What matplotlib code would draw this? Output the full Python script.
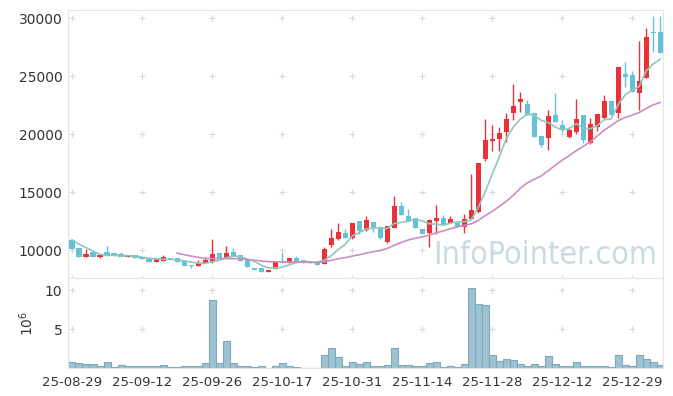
import numpy as np
import pandas as pd
import matplotlib
matplotlib.use("Agg")
import matplotlib.pyplot as plt

# daily prices (KRW), 85 trading days
opens = [10840, 10170, 9430, 9850, 9430, 9830, 9740, 9680, 9430, 9540,
         9370, 9230, 9000, 9080, 9300, 9310, 9090, 8710, 8630, 8890,
         9000, 9740, 9310, 9830, 9600, 9140, 8460, 8460, 8150, 8400,
         9080, 8890, 9310, 9110, 9050, 8940, 8820, 10460, 10950, 11500,
         11060, 12530, 11700, 12440, 12010, 10720, 11920, 13790, 12930, 12730,
         11840, 11440, 12530, 12760, 12350, 12350, 11960, 12700, 13300, 17820,
         19400, 19600, 20200, 21790, 22790, 22590, 21790, 19830, 19680, 21640,
         20780, 19720, 20200, 21640, 19260, 20630, 21350, 22870, 21840, 25170,
         25090, 23560, 24860, 28820, 28820]
highs = [10950, 10170, 10090, 9850, 9570, 10400, 9760, 9830, 9510, 9560,
         9380, 9230, 9200, 9600, 9320, 9310, 9090, 8710, 9150, 9370,
         10950, 9760, 10320, 10150, 9600, 9150, 8480, 8470, 8290, 9050,
         9720, 9320, 9480, 9120, 9060, 8950, 10230, 11790, 12300, 11790,
         12330, 12540, 12930, 12450, 12100, 12100, 14650, 14160, 13510, 12740,
         11850, 12650, 13880, 13020, 12930, 12360, 13100, 16530, 17470, 21270,
         20780, 20630, 21840, 24310, 23650, 22930, 21800, 19840, 22080, 23510,
         21210, 20630, 22990, 21650, 21350, 21725, 23380, 22880, 25750, 26180,
         25430, 28040, 29110, 30200, 30200]
lows = [10100, 9420, 9420, 9430, 9310, 9600, 9510, 9450, 9420, 9340,
        9200, 8940, 8990, 9070, 9230, 8990, 8620, 8450, 8620, 8850,
        8880, 9310, 9300, 9510, 9080, 8540, 8290, 8150, 8140, 8380,
        8910, 8880, 9050, 8890, 8850, 8700, 8810, 10290, 10900, 11060,
        10950, 11380, 11690, 11530, 11000, 10650, 11900, 12990, 12530, 11920,
        11380, 10230, 11370, 12160, 12340, 12010, 11500, 12690, 13200, 17670,
        18560, 18560, 19340, 21210, 21900, 21640, 19770, 18910, 18650, 21060,
        20200, 19650, 20000, 19200, 19150, 20260, 21300, 21640, 21350, 24030,
        23650, 22070, 24800, 27100, 27010]
closes = [10110, 9430, 9660, 9430, 9570, 9600, 9510, 9450, 9510, 9340,
          9200, 9000, 9200, 9370, 9230, 9000, 8630, 8630, 8890, 9140,
          9660, 9310, 9740, 9510, 9090, 8540, 8290, 8150, 8290, 9000,
          8920, 9310, 9050, 8890, 8850, 8740, 10090, 11010, 11550, 11060,
          12330, 11610, 12590, 11990, 11060, 12070, 13790, 12990, 12530, 11920,
          11380, 12590, 12760, 12160, 12670, 12010, 12670, 13450, 17470, 19480,
          19570, 20120, 21290, 22440, 23020, 21640, 19770, 19050, 21550, 21060,
          20350, 20350, 21290, 19480, 20840, 21725, 22850, 21640, 25750, 24940,
          23650, 24570, 28330, 28730, 27010]
# closes of the 4 sessions before the window (only feed the moving averages)
prior_closes = [11300, 11100, 11000, 10900]

volume = [820000, 690000, 560000, 560000, 300000, 820000, 90000, 430000, 210000, 210000,
          210000, 210000, 210000, 430000, 90000, 90000, 210000, 210000, 300000, 690000,
          8800000, 690000, 3500000, 690000, 300000, 300000, 90000, 210000, 20000, 300000,
          690000, 210000, 90000, 20000, 20000, 20000, 1700000, 2600000, 1370000, 210000,
          820000, 560000, 820000, 210000, 210000, 430000, 2600000, 430000, 430000, 300000,
          210000, 690000, 820000, 90000, 210000, 90000, 560000, 10300000, 8300000, 8150000,
          1700000, 940000, 1200000, 1070000, 560000, 300000, 560000, 210000, 1600000, 560000,
          210000, 210000, 820000, 300000, 300000, 210000, 210000, 90000, 1700000, 430000,
          210000, 1700000, 1200000, 820000, 430000]

tick_pos = [0, 10, 20, 30, 40, 50, 60, 70, 80]
tick_labels = ['25-08-29', '25-09-12', '25-09-26', '25-10-17', '25-10-31',
               '25-11-14', '25-11-28', '25-12-12', '25-12-29']

up_color = '#ec3038'
down_color = '#64c1d8'
grid_color = '#d9d9d9'
plt.rcParams['font.family'] = ['DejaVu Sans']

n = len(closes)
x = np.arange(n)
o = np.array(opens, float)
c = np.array(closes, float)
h = np.array(highs, float)
l = np.array(lows, float)

allc = pd.Series(prior_closes + closes, dtype=float)
ma5 = allc.rolling(5).mean().values[len(prior_closes):]
ma20 = allc.rolling(20).mean().values[len(prior_closes):]

fig = plt.figure(figsize=(6.73, 3.96), dpi=100)
W, H = 673.0, 396.0
ax1 = fig.add_axes([68 / W, 1 - 278 / H, (663 - 68) / W, (278 - 10) / H])
ax2 = fig.add_axes([68 / W, 1 - 368 / H, (663 - 68) / W, (368 - 278) / H], sharex=ax1)

# watermark
ax1.text(0.99, 0.025, 'InfoPointer.com', transform=ax1.transAxes, ha='right', va='bottom',
         fontsize=23, color='#c9dbe5', fontstretch='condensed', zorder=0)

colors = np.where(c >= o, up_color, down_color)
ax1.vlines(x, l, h, colors=colors, linewidth=1.0, zorder=2)
body = np.maximum(np.abs(c - o), 40)
ax1.bar(x, body, bottom=np.minimum(o, c), width=0.72, color=colors, linewidth=0, zorder=3)

ax1.plot(x, ma5, color='#8cc8bf', linewidth=1.2, zorder=4)
ax1.plot(x, ma20, color='#cc8cc4', linewidth=1.2, zorder=4)

ax1.set_xlim(-0.57, 84.4)
ax1.set_ylim(7600, 30700)
ax1.set_yticks([10000, 15000, 20000, 25000, 30000])

vol_m = np.array(volume) / 1e6
ax2.bar(x, vol_m, width=1.0, color='#9dc2d2', edgecolor='#7fa9bb', linewidth=0.8, zorder=2)
ax2.set_ylim(0, 11.6)
ax2.set_yticks([5, 10])
ax2.set_ylabel(r'$10^6$', fontsize=10, color='#333333', labelpad=6)

ax2.set_xticks(tick_pos)
ax2.set_xticklabels(tick_labels)

# little "+" grid marks at tick crossings
gx, gy = np.meshgrid(tick_pos, [10000, 15000, 20000, 25000, 30000])
ax1.scatter(gx.ravel(), gy.ravel(), marker='+', s=22, color=grid_color, linewidths=0.8, zorder=1)
ax1.scatter(tick_pos, [7600] * len(tick_pos), marker='+', s=22, color=grid_color,
            linewidths=0.8, zorder=1, clip_on=False)
gx2, gy2 = np.meshgrid(tick_pos, [5, 10])
ax2.scatter(gx2.ravel(), gy2.ravel(), marker='+', s=22, color=grid_color, linewidths=0.8, zorder=1)

for ax in (ax1, ax2):
    for s in ax.spines.values():
        s.set_color('#e4e4e4')
        s.set_linewidth(0.8)
    ax.tick_params(length=0, labelsize=10, colors='#333333', pad=4)
ax1.tick_params(labelbottom=False)
ax2.tick_params(axis='x', pad=6, labelsize=9.5)

fig.savefig('out.png', dpi=100)
